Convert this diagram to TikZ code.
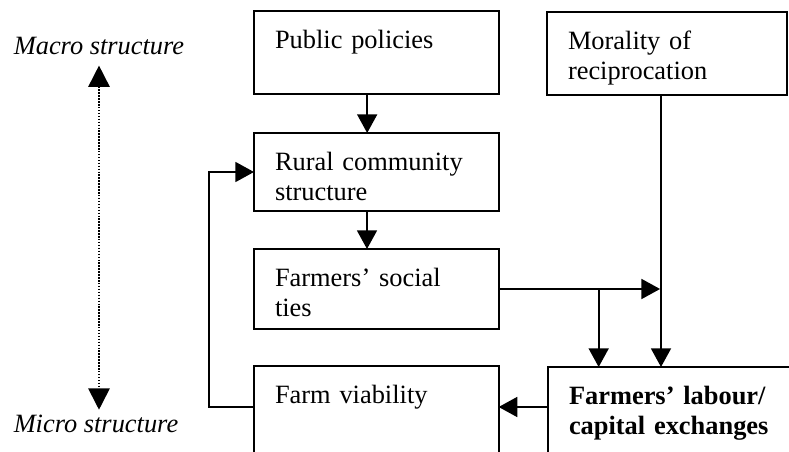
\documentclass[tikz,border=0pt]{standalone}
\usepackage{fontspec}
\setmainfont{Liberation Serif}
\usetikzlibrary{arrows.meta}

\newcommand\figfont{\fontsize{19.8pt}{22.5pt}\selectfont}

\tikzset{
  box/.style 2 args={draw, line width=1.4pt, anchor=north west, outer sep=0pt,
    align=left, inner xsep=15.75pt, inner ysep=0pt, font=\figfont,
    text width=#1-31.5pt, text height=28pt, text depth=#2-28pt},
  arr/.style={-{Triangle[length=14pt,width=15pt]}, line width=1.3pt},
  side/.style={font=\figfont\itshape, anchor=base, inner sep=0pt},
}

\begin{document}
\begin{tikzpicture}[x=0.75pt, y=-0.75pt]
  \clip (0,0) rectangle (789,452);

  % scale labels
  \node[side] (macro) at (99,55)  {Macro structure};
  \node[side] (micro) at (96,432) {Micro structure};
  \draw[line width=1.3pt, dash pattern=on 1.1pt off 1.1pt,
        {Triangle[length=16pt,width=16pt]}-{Triangle[length=16pt,width=16pt]}]
    ([yshift=-7.5pt]macro.south) -- ([yshift=3.4pt]micro.north -| macro.south);

  % boxes
  \node[box={183.75pt}{62.25pt}] (pub)    at (254,11)  {Public policies};
  \node[box={183.5pt}{58.5pt}]   (rural)  at (254,133) {Rural community\\structure};
  \node[box={183.5pt}{60pt}]     (social) at (254,249) {Farmers' social\\ties};
  \node[box={183.5pt}{82.5pt}]   (viab)   at (254,366) {Farm viability};
  \node[box={180pt}{62.25pt}]    (moral)  at (547,12)  {Morality of\\reciprocation};
  \node[box={195pt}{82.5pt}]     (lab)    at (548,367) {\bfseries Farmers' labour/\\capital exchanges};

  \coordinate (mv) at ([xshift=-4.5pt]moral.south);
  \coordinate (br) at ([xshift=75pt]social.east);
  \coordinate (lv) at ([yshift=-30pt]lab.north west);

  % links
  \draw[arr] ([xshift=-7pt]pub.south)   -- ([xshift=-7pt]pub.south |- rural.north);
  \draw[arr] ([xshift=-7pt]rural.south) -- ([xshift=-7pt]rural.south |- social.north);
  \draw[arr] (mv) -- (mv |- lab.north);
  \draw[arr] (social.east) -- ([xshift=-0.7pt]social.east -| mv);
  \draw[arr] (br) -- (br |- lab.north);
  \draw[arr] (lv) -- (lv -| viab.east);
  \draw[arr] (lv -| viab.west) -- ++(-45,0) |- (rural.west);
\end{tikzpicture}
\end{document}
